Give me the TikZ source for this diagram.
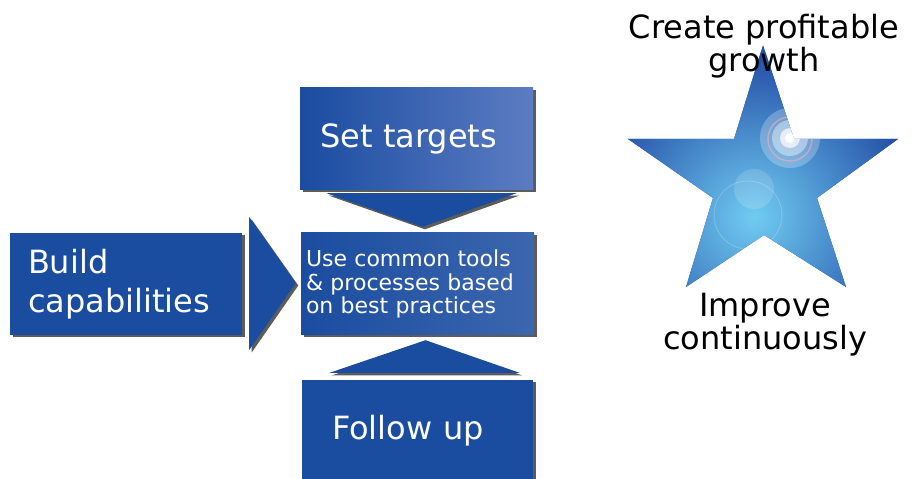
\documentclass[tikz,border=0pt]{standalone}
\usepackage{fontspec}
\setmainfont{DejaVu Sans}
\usetikzlibrary{calc}
\usetikzlibrary{shadows}
\definecolor{boxblue}{RGB}{26,76,160}
\definecolor{boxlight}{RGB}{92,124,194}
\definecolor{starcore}{RGB}{112,204,242}
\definecolor{starrim}{RGB}{34,76,165}
\tikzset{
	boxshadow/.style={drop shadow={shadow xshift=2.5pt, shadow yshift=-2.5pt, opacity=0.75, fill=black!85}},
	blk/.style={fill=boxblue, text=white, minimum height=102pt, inner ysep=0pt, align=left, boxshadow},
	tri/.style={fill=boxblue, boxshadow},
	bigtext/.style={font=\fontsize{32}{39}\selectfont}
}

\begin{document}
\begin{tikzpicture}[x=1pt, y=1pt]
			\useasboundingbox (0,0) rectangle (916,479);

			\node[blk, bigtext, text width=196pt, inner xsep=18pt] (build) at (126,195) {Build\\capabilities};
			\node[blk, bigtext, text width=193pt, inner xsep=20pt, left color=boxblue, right color=boxlight] (targets) at (416.5,340) {Set targets};
			\node[blk, text width=223pt, inner xsep=5pt, font=\fontsize{22}{23.5}\selectfont, left color=boxblue, right color=boxblue!85!white] (tools) at (417.5,195) {Use common tools\\\& processes based\\on best practices};
			\node[blk, bigtext, text width=171pt, inner xsep=30pt] (followup) at (417.5,48) {Follow up};

			\fill[tri]($(build.east)+(7,67)$)--($(build.east)+(7,-66)$)--($(tools.west)+(-5,1)$)--cycle;
			\fill[tri]($(targets.south)+(-90,-3)$)--($(targets.south)+(100,-3)$)--($(tools.north)+(5,6)$)--cycle;
			\fill[tri]($(followup.north)+(-88,7)$)--($(followup.north)+(102,7)$)--($(tools.south)+(8,-5)$)--cycle;

			\begin{scope}
				\clip (763,434)--(794,340)--(898,340)--(817,281)--(846,192)--(764,244)--(686,192)--(713,281)--(628,340)--(734,340)--cycle;
				\fill[starrim] (620,185) rectangle (905,440);
				\shade[inner color=starcore, outer color=starrim] (754,262) circle (165);
				\draw[white, opacity=0.18, line width=1pt] (748,264) circle (34);
				\fill[white, opacity=0.15] (754,290) circle (20);
				\draw[red!40!white, opacity=0.5, line width=1.5pt] (790,340) circle (22);
				\fill[white, opacity=0.25] (790,341) circle (30);
				\fill[white, opacity=0.4] (790,341) circle (18);
				\fill[white, opacity=0.7] (790,341) circle (10);
				\fill[white] (790,341) circle (5);
			\end{scope}

			\node[font=\fontsize{32}{33}\selectfont, align=center] (goal) at (764,433) {Create profitable\\growth};
			\node[font=\fontsize{32}{33}\selectfont, align=center] (improve) at (765,154) {Improve\\continuously};
		\end{tikzpicture}
\end{document}
